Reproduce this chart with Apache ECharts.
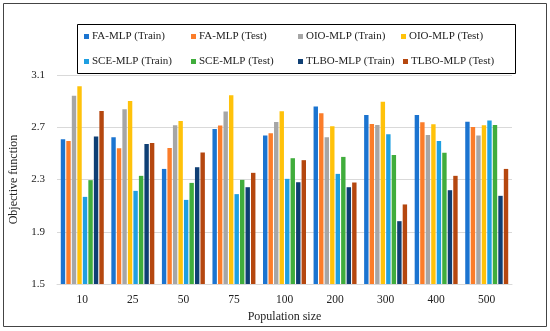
<!DOCTYPE html>
<html><head><meta charset="utf-8">
<script src="https://cdn.jsdelivr.net/npm/echarts@6/dist/echarts.min.js"></script>
<style>html,body{margin:0;padding:0;background:#fff}#c{width:550px;height:331px}</style>
</head><body><div id="c"></div>
<script>
const categories = ['10','25','50','75','100','200','300','400','500'];
const seriesNames = ['FA-MLP (Train)','FA-MLP (Test)','OIO-MLP (Train)','OIO-MLP (Test)','SCE-MLP (Train)','SCE-MLP (Test)','TLBO-MLP (Train)','TLBO-MLP (Test)'];
const faTrain   = [2.608, 2.623, 2.381, 2.687, 2.636, 2.858, 2.794, 2.794, 2.743];
const faTest    = [2.595, 2.539, 2.542, 2.713, 2.654, 2.807, 2.725, 2.738, 2.702];
const oioTrain  = [2.942, 2.838, 2.715, 2.820, 2.741, 2.623, 2.718, 2.641, 2.636];
const oioTest   = [3.013, 2.901, 2.748, 2.945, 2.822, 2.708, 2.896, 2.723, 2.715];
const sceTrain  = [2.167, 2.213, 2.144, 2.188, 2.305, 2.343, 2.646, 2.595, 2.751];
const sceTest   = [2.295, 2.328, 2.274, 2.297, 2.463, 2.473, 2.488, 2.504, 2.718];
const tlboTrain = [2.629, 2.572, 2.394, 2.241, 2.279, 2.241, 1.981, 2.218, 2.175];
const tlboTest  = [2.825, 2.580, 2.506, 2.351, 2.448, 2.277, 2.109, 2.328, 2.381];
const yTicks = {min: 1.5, max: 3.1, interval: 0.4};

const allData = [faTrain, faTest, oioTrain, oioTest, sceTrain, sceTest, tlboTrain, tlboTest];
const colors = ['#1b74d0','#fb7d2a','#a6a6a6','#ffc20a','#1f9fe1','#40ad3c','#0f3f74','#b5470f'];
const font = 'Liberation Serif';

const legendPos = [
  [84, 31],[191, 31],[298, 31],[401, 31],
  [84, 56],[191, 56],[298, 56],[403, 56]
];
const legends = seriesNames.map((n, i) => ({
  data: [n], left: legendPos[i][0], top: legendPos[i][1], padding: 0,
  itemWidth: 5, itemHeight: 5, icon: 'rect', selectedMode: false,
  textStyle: {fontFamily: font, fontSize: 11, color: '#222', padding: [0,0,0,-2]}
}));

const chart = echarts.init(document.getElementById('c'), null, {renderer: 'canvas'});
chart.setOption({
  animation: false,
  color: colors,
  graphic: [
    {type: 'rect', shape: {x: 3.5, y: 3.5, width: 543, height: 323}, style: {fill: 'none', stroke: '#444', lineWidth: 1}, z: 0},
    {type: 'rect', shape: {x: 77.5, y: 24.5, width: 438, height: 49}, style: {fill: 'none', stroke: '#000', lineWidth: 1}, z: 0}
  ],
  legend: legends,
  grid: {left: 57, right: 38, top: 75, bottom: 47},
  xAxis: {
    type: 'category', data: categories,
    name: 'Population size', nameLocation: 'middle', nameGap: 27,
    nameTextStyle: {fontFamily: font, fontSize: 12, color: '#222'},
    axisLine: {lineStyle: {color: '#d9d9d9'}}, axisTick: {show: false},
    axisLabel: {fontFamily: font, fontSize: 11.5, color: '#222', margin: 10}
  },
  yAxis: {
    type: 'value', min: yTicks.min, max: yTicks.max, interval: yTicks.interval,
    name: 'Objective function', nameLocation: 'middle', nameGap: 37,
    nameTextStyle: {fontFamily: font, fontSize: 12, color: '#222'},
    axisLine: {show: false}, axisTick: {show: false},
    axisLabel: {fontFamily: font, fontSize: 11, color: '#222', margin: 12, formatter: v => v.toFixed(1)},
    splitLine: {lineStyle: {color: '#d9d9d9'}}
  },
  series: allData.map((d, i) => ({
    type: 'bar', name: seriesNames[i], data: d,
    barGap: '25%', barCategoryGap: '15%'
  }))
});
</script></body></html>
